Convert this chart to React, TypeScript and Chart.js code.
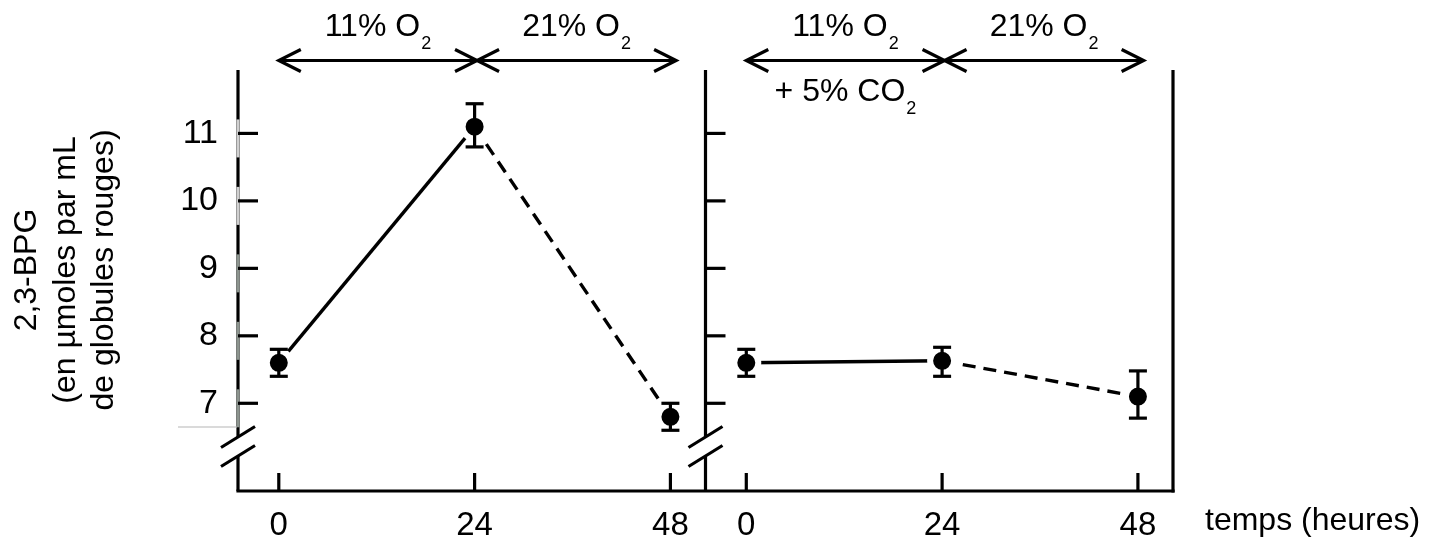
import React, { useEffect, useRef } from "react";
import { Chart, registerables } from "chart.js";

Chart.register(...registerables);

// ---- data ----
const timePoints = [0, 24, 48];
const xTickValues = [0, 24, 48];
const yTickValues = [7, 8, 9, 10, 11];

// panel 1: 11% O2 then 21% O2
const leftMeans = [7.6, 11.1, 6.8];
const leftLow = [7.4, 10.8, 6.6];
const leftHigh = [7.8, 11.44, 7.0];

// panel 2: 11% O2 + 5% CO2 then 21% O2
const rightMeans = [7.6, 7.63, 7.1];
const rightLow = [7.4, 7.4, 6.78];
const rightHigh = [7.8, 7.83, 7.48];

// phase boundaries (hours) and labels
const phaseBounds = [0, 24.3, 48.7];
const phaseLabels = ["11% O₂", "21% O₂"];
const co2Note = "+ 5% CO₂";
const yTitleLines = ["2,3-BPG", "(en µmoles par mL", "de globules rouges)"];
const xTitle = "temps (heures)";

const FONT = "'Liberation Sans', Arimo, Arial, sans-serif";

function drawSubText(ctx: CanvasRenderingContext2D, text: string, cx: number, baseline: number, size: number) {
  const subSize = 18;
  const parts: { t: string; sub: boolean }[] = [];
  for (const ch of text) {
    const sub = ch === "₂";
    const t = sub ? "2" : ch;
    const last = parts[parts.length - 1];
    if (last && last.sub === sub) last.t += t;
    else parts.push({ t, sub });
  }
  let total = 0;
  const widths = parts.map((p) => {
    ctx.font = `${p.sub ? subSize : size}px ${FONT}`;
    const w = ctx.measureText(p.t).width + (p.sub ? 1 : 0);
    total += w;
    return w;
  });
  let x = cx - total / 2;
  ctx.textAlign = "left";
  ctx.textBaseline = "alphabetic";
  parts.forEach((p, i) => {
    ctx.font = `${p.sub ? subSize : size}px ${FONT}`;
    ctx.fillText(p.t, p.sub ? x + 1 : x, p.sub ? baseline + 13 : baseline);
    x += widths[i];
  });
}

const decorPlugin = {
  id: "decor",
  afterDraw(chart: any) {
    const ctx: CanvasRenderingContext2D = chart.ctx;
    const xs = chart.scales.x;
    const x2 = chart.scales.x2;
    const ys = chart.scales.y;
    const top = chart.chartArea.top;
    const bottom = chart.chartArea.bottom;
    const L = xs.left;
    const M = x2.left;
    const R = x2.right;

    const line = (a: number, b: number, c: number, d: number) => {
      ctx.beginPath();
      ctx.moveTo(a, b);
      ctx.lineTo(c, d);
      ctx.stroke();
    };

    ctx.save();
    ctx.strokeStyle = "#000";
    ctx.fillStyle = "#000";
    ctx.lineWidth = 3.2;
    ctx.lineCap = "butt";

    // error bars
    const errBars = (scale: any, lows: number[], highs: number[]) => {
      timePoints.forEach((t, i) => {
        const px = scale.getPixelForValue(t);
        const y1 = ys.getPixelForValue(lows[i]);
        const y2 = ys.getPixelForValue(highs[i]);
        line(px, y1, px, y2);
        line(px - 9, y1, px + 9, y1);
        line(px - 9, y2, px + 9, y2);
      });
    };
    errBars(xs, leftLow, leftHigh);
    errBars(x2, rightLow, rightHigh);

    // axes with break
    const cU = bottom - 54;
    const cL = bottom - 35;
    const vAxisBroken = (x: number) => {
      line(x, top, x, cU);
      line(x, cL, x, bottom);
      line(x - 17, cU + 10.5, x + 17, cU - 10.5);
      line(x - 17, cL + 10.5, x + 17, cL - 10.5);
    };
    vAxisBroken(L);
    vAxisBroken(M);
    line(R, top, R, bottom + 1.6);
    line(L - 1.6, bottom, R + 1.6, bottom);

    // light segments on left axis (scan artefact)
    yTickValues.forEach((v) => {
      const py = ys.getPixelForValue(v);
      ctx.save();
      ctx.lineWidth = 3;
      ctx.strokeStyle = v >= 10 ? "#d0d0d0" : "#8c948e";
      line(L, py - 14, L, py + 24);
      ctx.restore();
    });
    ctx.save();
    ctx.lineWidth = 1;
    ctx.strokeStyle = "#b5b5b5";
    line(178, cU - 10, L - 1, cU - 10);
    ctx.restore();

    // inward ticks
    yTickValues.forEach((v) => {
      const py = ys.getPixelForValue(v);
      line(L, py, L + 20, py);
      line(M, py, M + 20, py);
    });
    [xs, x2].forEach((s) => {
      xTickValues.forEach((v) => {
        const px = s.getPixelForValue(v);
        line(px, bottom, px, bottom - 18);
      });
    });

    // phase arrows
    const ay = top - 9.5;
    const head = (tip: number, dir: number) => {
      ctx.beginPath();
      ctx.moveTo(tip - dir * 22, ay - 11);
      ctx.lineTo(tip, ay);
      ctx.lineTo(tip - dir * 22, ay + 11);
      ctx.stroke();
    };
    [xs, x2].forEach((s, k) => {
      const p = phaseBounds.map((v) => s.getPixelForValue(v));
      line(p[0], ay, p[2], ay);
      head(p[0], -1);
      head(p[1], 1);
      head(p[1], -1);
      head(p[2], 1);
      drawSubText(ctx, phaseLabels[0], (p[0] + p[1]) / 2, top - 34, 32);
      drawSubText(ctx, phaseLabels[1], (p[1] + p[2]) / 2, top - 34, 32);
      if (k === 1) drawSubText(ctx, co2Note, (p[0] + p[1]) / 2, top + 31, 32);
    });

    // y title
    ctx.font = `32px ${FONT}`;
    ctx.textAlign = "center";
    ctx.textBaseline = "middle";
    const titleX = [27, 66, 104];
    yTitleLines.forEach((t, i) => {
      ctx.save();
      ctx.translate(titleX[i], 270);
      ctx.rotate(-Math.PI / 2);
      ctx.fillText(t, 0, 0);
      ctx.restore();
    });

    // x title
    ctx.textAlign = "left";
    ctx.textBaseline = "alphabetic";
    ctx.font = `32px ${FONT}`;
    ctx.fillText(xTitle, 1205, 530);

    ctx.restore();
  },
};

export default function App() {
  const canvasRef = useRef<HTMLCanvasElement | null>(null);

  useEffect(() => {
    if (!canvasRef.current) return;
    const segDash = (c: any) => (c.p0DataIndex >= 1 ? [13, 8] : undefined);
    const common = {
      borderColor: "#000",
      borderWidth: 3.4,
      pointRadius: 12,
      pointHoverRadius: 12,
      pointBackgroundColor: "#000",
      pointBorderColor: "#fff",
      pointBorderWidth: 6,
      segment: { borderDash: segDash },
      clip: false as any,
      tension: 0,
    };
    const xScale = () => ({
      type: "linear",
      position: "bottom",
      stack: "time",
      stackWeight: 1,
      min: -5,
      max: 52.3,
      grid: { display: false, drawTicks: false },
      border: { display: false },
      ticks: { padding: 15, color: "#000", font: { family: FONT, size: 33 } },
      afterBuildTicks: (s: any) => {
        s.ticks = xTickValues.map((v) => ({ value: v }));
      },
      afterFit: (s: any) => {
        s.height = 46;
      },
    });
    const chart = new Chart(canvasRef.current, {
      type: "line",
      data: {
        datasets: [
          {
            ...common,
            xAxisID: "x",
            yAxisID: "y",
            data: timePoints.map((t, i) => ({ x: t, y: leftMeans[i] })),
          },
          {
            ...common,
            xAxisID: "x2",
            yAxisID: "y",
            data: timePoints.map((t, i) => ({ x: t, y: rightMeans[i] })),
          },
        ],
      },
      options: {
        animation: false,
        responsive: true,
        maintainAspectRatio: false,
        layout: { padding: { left: 0, right: 275, top: 70, bottom: 0 } },
        plugins: { legend: { display: false }, tooltip: { enabled: false } },
        scales: {
          x: xScale(),
          x2: xScale(),
          y: {
            type: "linear",
            position: "left",
            min: 5.7,
            max: 11.94,
            grid: { display: false, drawTicks: false },
            border: { display: false },
            ticks: { padding: 20, color: "#000", font: { family: FONT, size: 34 } },
            afterBuildTicks: (s: any) => {
              s.ticks = yTickValues.map((v) => ({ value: v }));
            },
            afterFit: (s: any) => {
              s.width = 238;
            },
          },
        } as any,
      },
      plugins: [decorPlugin],
    } as any);
    return () => chart.destroy();
  }, []);

  return (
    <div style={{ position: "fixed", left: 0, top: 0, width: 1448, height: 537, background: "#fff" }}>
      <canvas ref={canvasRef} />
    </div>
  );
}
